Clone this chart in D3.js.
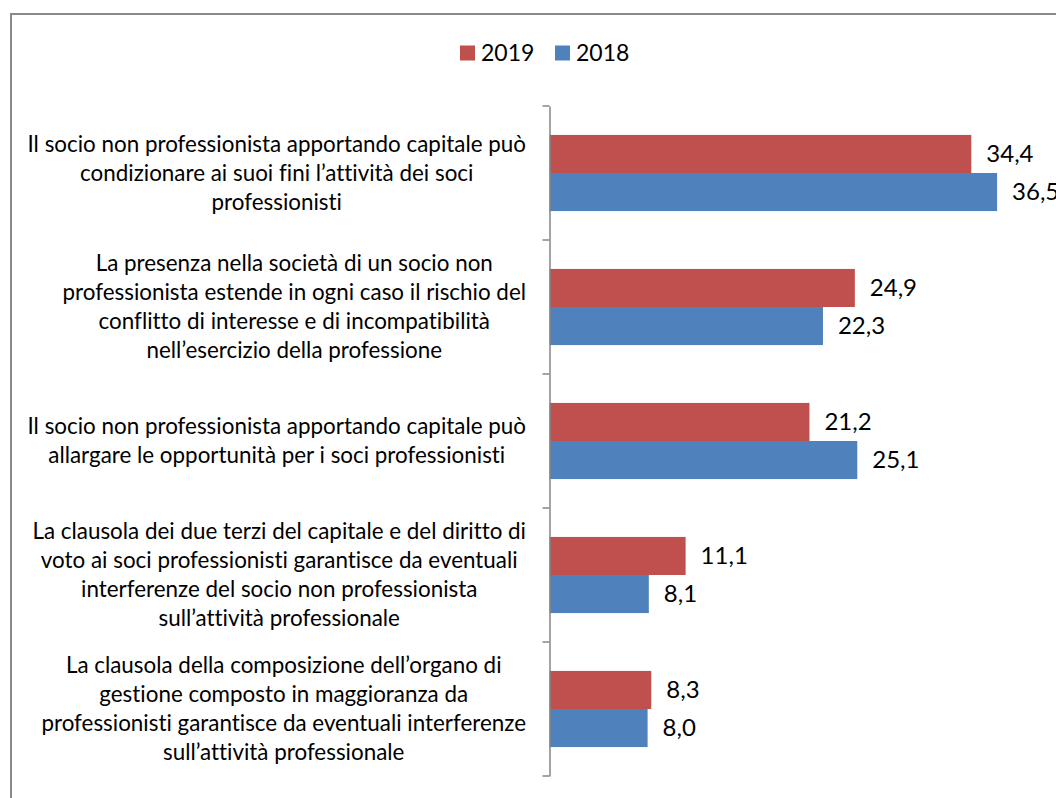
<!DOCTYPE html>
<html>
<head>
<meta charset="utf-8">
<script src="https://cdn.jsdelivr.net/npm/d3@7"></script>
<style>
  body { margin: 0; background: #fff; }
  svg { display: block; font-family: Lato, "Open Sans", sans-serif; font-variant-ligatures: none; }
</style>
</head>
<body>
<div id="chart"></div>
<script>
// categories, one label per line as wrapped in the original
const categories = [
  ["Il socio non professionista apportando capitale può", "condizionare ai suoi fini l’attività dei soci", "professionisti"],
  ["La presenza nella società di un socio non", "professionista estende in ogni caso il rischio del", "conflitto di interesse e di incompatibilità", "nell’esercizio della professione"],
  ["Il socio non professionista apportando capitale può", "allargare le opportunità per i soci professionisti"],
  ["La clausola dei due terzi del capitale e del diritto di", "voto ai soci professionisti garantisce da eventuali", "interferenze del socio non professionista", "sull’attività professionale"],
  ["La clausola della composizione dell’organo di", "gestione composto in maggioranza da", "professionisti garantisce da eventuali interferenze", "sull’attività professionale"]
];
const seriesNames = ["2019", "2018"];
const values2019 = [34.4, 24.9, 21.2, 11.1, 8.3];
const values2018 = [36.5, 22.3, 25.1, 8.1, 8.0];
const colors = {"2019": "#c0504d", "2018": "#4f81bd"};

const width = 1056, height = 798;
const fontSize = 22.4;

const svg = d3.select('#chart').append('svg')
  .attr('width', width)
  .attr('height', height);

// chart border (right and bottom edges fall outside the picture)
svg.append('rect')
  .attr('x', 11).attr('y', 14)
  .attr('width', width + 20).attr('height', height + 20)
  .attr('fill', 'none')
  .attr('stroke', '#898989')
  .attr('stroke-width', 2);

const catIdx = categories.map((d, i) => i);
const data = catIdx.map(i => ({i, lines: categories[i], v: {"2019": values2019[i], "2018": values2018[i]}}));

const x = d3.scaleLinear().domain([0, 40]).range([549.5, 1040]);
const y0 = d3.scaleBand().domain(catIdx).range([106, 776]);
const y1 = d3.scaleBand().domain(seriesNames).range([0, y0.bandwidth()]).paddingOuter(0.76);

// bars
const groups = svg.append('g').selectAll('g')
  .data(data)
  .join('g')
  .attr('transform', d => `translate(0,${y0(d.i)})`);

groups.selectAll('rect')
  .data(d => seriesNames.map(s => ({s, v: d.v[s]})))
  .join('rect')
  .attr('x', x(0))
  .attr('y', d => y1(d.s))
  .attr('width', d => x(d.v) - x(0))
  .attr('height', y1.bandwidth())
  .attr('fill', d => colors[d.s]);

groups.selectAll('text.val')
  .data(d => seriesNames.map(s => ({s, v: d.v[s]})))
  .join('text')
  .attr('class', 'val')
  .attr('x', d => x(d.v) + 15)
  .attr('y', d => y1(d.s) + y1.bandwidth() / 2)
  .attr('dy', '0.35em')
  .attr('font-size', 24)
  .attr('fill', '#000')
  .text(d => d3.format('.1f')(d.v).replace('.', ','));

// axis
const axis = svg.append('g')
  .attr('transform', `translate(${x(0)},0)`)
  .call(d3.axisLeft(y0).tickFormat('').tickSize(7).tickSizeOuter(0));
axis.select('.domain').attr('stroke', '#868686').attr('stroke-width', 1.5);
axis.selectAll('.tick').remove();
// ticks sit at the band boundaries, not band centres
axis.selectAll('line.b')
  .data(catIdx.map(i => y0(i)).concat([y0.range()[1]]))
  .join('line')
  .attr('class', 'b')
  .attr('x1', -7).attr('x2', 0)
  .attr('y1', d => d).attr('y2', d => d)
  .attr('stroke', '#868686').attr('stroke-width', 1.5);

// category labels: block right-aligned near the axis, lines centred inside it
const lineH = 29;
const labelRight = 526;
groups.each(function(d) {
  const g = d3.select(this).append('g').attr('font-size', fontSize).attr('fill', '#000');
  const texts = g.selectAll('text')
    .data(d.lines)
    .join('text')
    .attr('text-anchor', 'middle')
    .attr('dy', '0.35em')
    .attr('y', (l, k) => y0.bandwidth() / 2 + (k - (d.lines.length - 1) / 2) * lineH)
    .text(l => l);
  const maxW = d3.max(texts.nodes(), n => n.getComputedTextLength());
  texts.attr('x', labelRight - maxW / 2);
});

// legend
const legend = svg.append('g').attr('transform', 'translate(0,53)');
const legendX = {"2019": 460, "2018": 555};
seriesNames.forEach(s => {
  legend.append('rect')
    .attr('x', legendX[s]).attr('y', -7.5)
    .attr('width', 15).attr('height', 15)
    .attr('fill', colors[s]);
  legend.append('text')
    .attr('x', legendX[s] + 21)
    .attr('dy', '0.35em')
    .attr('font-size', 23)
    .text(s);
});
</script>
</body>
</html>
